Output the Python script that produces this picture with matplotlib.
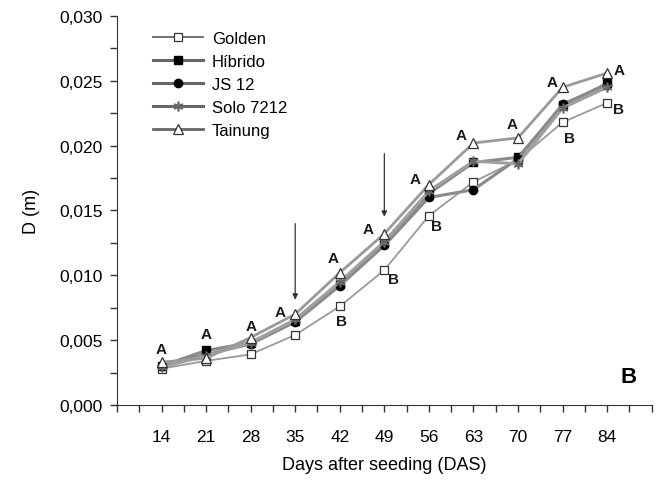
import numpy as np
import matplotlib
matplotlib.use('Agg')
import matplotlib.pyplot as plt
from matplotlib.ticker import FuncFormatter, MultipleLocator

plt.rcParams['font.family'] = ['Liberation Sans Narrow', 'Liberation Sans', 'DejaVu Sans']

# dias apos semeadura
das = [14, 21, 28, 35, 42, 49, 56, 63, 70, 77, 84]

golden = [0.0028, 0.0034, 0.0039, 0.0054, 0.0076, 0.0104, 0.0146, 0.0172, 0.0189, 0.0218, 0.0233]
hibrido = [0.0030, 0.0042, 0.0048, 0.0065, 0.0093, 0.0125, 0.0163, 0.0187, 0.0191, 0.0231, 0.0248]
js12 = [0.0030, 0.0039, 0.0047, 0.0064, 0.0092, 0.0123, 0.0160, 0.0166, 0.0190, 0.0232, 0.0247]
solo = [0.0029, 0.0038, 0.0048, 0.0066, 0.0095, 0.0126, 0.0165, 0.0188, 0.0186, 0.0229, 0.0245]
tainung = [0.0033, 0.0036, 0.0052, 0.0070, 0.0102, 0.0132, 0.0170, 0.0202, 0.0206, 0.0245, 0.0256]

# letras (posicao x, y, texto)
letra_x = [14, 21, 28, 32.6, 40.9, 46.4, 53.8, 61.0, 69.1, 75.4, 85.9,
           42.3, 50.4, 57.2, 78.1, 85.7]
letra_y = [0.0043, 0.0055, 0.0061, 0.0072, 0.0113, 0.0136, 0.0174, 0.0208, 0.0217, 0.0249, 0.0258,
           0.0065, 0.0097, 0.0138, 0.0206, 0.0228]
letra_txt = ['A'] * 11 + ['B'] * 5

# setas (x, y inicio, y fim)
seta_x = [35, 49]
seta_y0 = [0.0142, 0.0196]
seta_y1 = [0.0079, 0.0143]

fig = plt.figure(figsize=(6.57, 4.85), dpi=100)
ax = fig.add_axes([0.178, 0.163, 0.814, 0.802])

cinza = '#8a8a8a'
ax.plot(das, golden, color='#9a9a9a', lw=1.3, marker='s', ms=6, mfc='white', mec='#333333', mew=0.9, label='Golden', zorder=3)
ax.plot(das, hibrido, color=cinza, lw=2.2, marker='s', ms=6, mfc='black', mec='black', label='Híbrido', zorder=4)
ax.plot(das, js12, color=cinza, lw=2.2, marker='o', ms=6, mfc='black', mec='black', label='JS 12', zorder=4)
ax.plot(das, solo, color='#a0a0a0', lw=2.2, marker=(6, 2, 0), ms=7, mec='#666666', mew=1.2, label='Solo 7212', zorder=4)
ax.plot(das, tainung, color='#9a9a9a', lw=2.0, marker='^', ms=7, mfc='white', mec='#333333', mew=0.9, label='Tainung', zorder=5)

for x, y, t in zip(letra_x, letra_y, letra_txt):
    ax.text(x, y, t, ha='center', va='center', fontsize=11, fontweight='bold', color='#1a1a1a',
            family=['Liberation Sans', 'DejaVu Sans'])

for x, y0, y1 in zip(seta_x, seta_y0, seta_y1):
    ax.annotate('', xy=(x, y1), xytext=(x, y0),
                arrowprops=dict(arrowstyle='-|>', color='#333333', lw=0.9, mutation_scale=8))

ax.text(87.4, 0.0022, 'B', ha='center', va='center', fontsize=16, fontweight='bold',
        family=['Liberation Sans', 'DejaVu Sans'])

ax.set_xlim(7, 91)
ax.set_ylim(0, 0.030)
ax.xaxis.set_major_locator(MultipleLocator(3.5))
ax.xaxis.set_major_formatter(FuncFormatter(lambda v, p: '%d' % v if (abs(v % 7) < 1e-6 and 14 <= v <= 84) else ''))
ax.yaxis.set_major_locator(MultipleLocator(0.005))
ax.yaxis.set_minor_locator(MultipleLocator(0.0025))
ax.yaxis.set_major_formatter(FuncFormatter(lambda v, p: ('%.3f' % v).replace('.', ',')))
ax.tick_params(axis='both', direction='out', length=5, width=1, labelsize=12.5, color='#333333')
ax.tick_params(axis='y', which='minor', length=5, width=1, color='#333333')
ax.tick_params(axis='x', pad=12)
ax.tick_params(axis='y', pad=5)

ax.spines['top'].set_visible(False)
ax.spines['right'].set_visible(False)
ax.spines['left'].set_color('#333333')
ax.spines['bottom'].set_color('#333333')

ax.set_xlabel('Days after seeding (DAS)', fontsize=13, labelpad=9)
ax.set_ylabel('D (m)', fontsize=13, labelpad=14)

leg = ax.legend(loc='upper left', bbox_to_anchor=(0.04, 1.0), frameon=False, fontsize=12,
                handlelength=3.0, labelspacing=0.48, handletextpad=0.5)
for h in leg.get_lines():
    h.set_color('#666666')

fig.savefig('out.png', dpi=100)
